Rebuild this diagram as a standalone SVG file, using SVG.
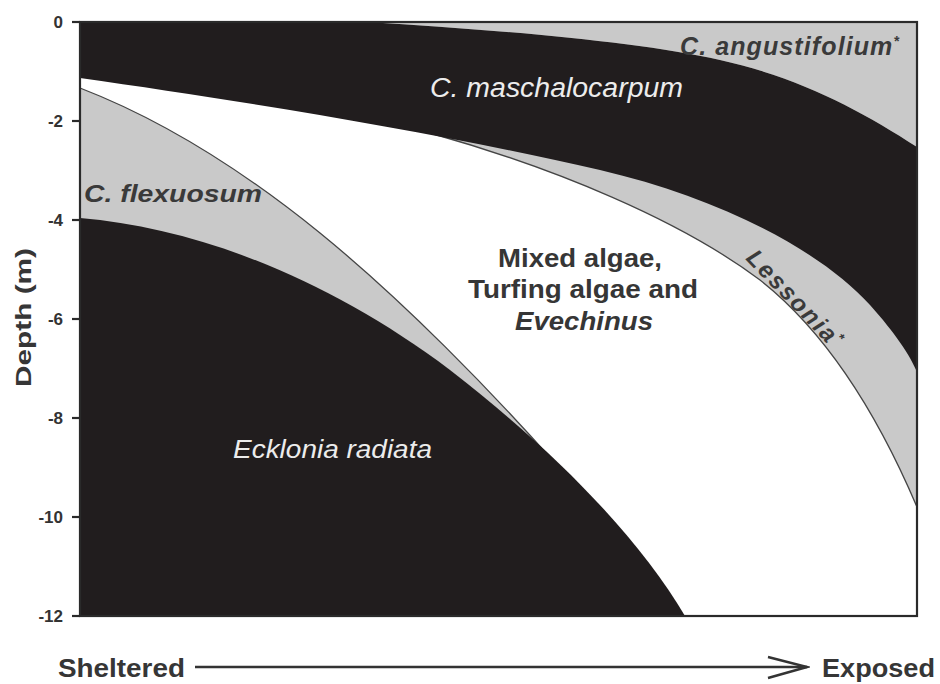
<svg xmlns="http://www.w3.org/2000/svg" width="940" height="684" viewBox="0 0 940 684">
<defs>
<style>
.blk{fill:#211d1e;stroke:none}
.gry{fill:#c9c9c9;stroke:none}
.edge{fill:none;stroke:#454545;stroke-width:1.3}
.lbl{font-family:"Liberation Sans",Arial,sans-serif;fill:#363636}
.tick{font-family:"Liberation Sans",Arial,sans-serif;font-size:17px;font-weight:bold;fill:#333;text-anchor:end}
.wht{font-family:"Liberation Sans",Arial,sans-serif;font-style:italic;fill:#ececec}
.dk{font-family:"Liberation Sans",Arial,sans-serif;font-style:italic;font-weight:bold;fill:#3a3a3a}
.axis{stroke:#2a2a2a;stroke-width:2.2}
</style>
<marker id="arrowhead" markerUnits="userSpaceOnUse" markerWidth="44" markerHeight="26" refX="41" refY="12" orient="auto">
<path d="M2,2 L41,12 L2,23" fill="none" stroke="#333" stroke-width="2.5"/>
</marker>
</defs>
<rect width="940" height="684" fill="#ffffff"/>

<g id="plot-background">
<rect x="80" y="22" width="837" height="594" fill="#ffffff"/>
</g>

<g id="angustifolium">
<path class="gry" d="M367,22 C500,30 640,42 720,60 S860,110 917,147 L917,22 Z"/>
</g>

<g id="lessonia">
<path class="gry" d="M430,133 C555,168 680,220 760,280 C830,335 880,420 917,507 L917,200 L440,60 Z"/>
<path class="edge" d="M430,133 C555,168 680,220 760,280 C830,335 880,420 917,507"/>
</g>

<g id="maschalocarpum">
<path class="blk" d="M80,22 L367,22 C500,30 640,42 720,60 S860,110 917,147 L917,372 C910,355 895,333 870,305 C820,250 720,198 600,170 C450,135 250,102 80,78 Z"/>
</g>

<g id="flexuosum">
<path class="gry" d="M80,88 C150,115 230,160 320,233 C390,290 490,385 600,515 L600,616 L80,616 Z"/>
<path class="edge" d="M80,88 C150,115 230,160 320,233 C390,290 490,385 600,515"/>
</g>

<g id="ecklonia">
<path class="blk" d="M80,218 C200,228 330,280 450,370 C560,455 640,540 685,616 L80,616 Z"/>
</g>

<g id="frame">
<rect x="80" y="22" width="837" height="594" fill="none" class="axis"/>
<g class="axis">
<line x1="72" y1="22" x2="80" y2="22"/>
<line x1="72" y1="121" x2="80" y2="121"/>
<line x1="72" y1="220" x2="80" y2="220"/>
<line x1="72" y1="319" x2="80" y2="319"/>
<line x1="72" y1="418" x2="80" y2="418"/>
<line x1="72" y1="517" x2="80" y2="517"/>
<line x1="72" y1="616" x2="80" y2="616"/>
</g>
</g>

<g id="tick-labels">
<text class="tick" x="63" y="28">0</text>
<text class="tick" x="63" y="127">-2</text>
<text class="tick" x="63" y="226">-4</text>
<text class="tick" x="63" y="325">-6</text>
<text class="tick" x="63" y="424">-8</text>
<text class="tick" x="63" y="523">-10</text>
<text class="tick" x="63" y="622">-12</text>
</g>

<g id="axis-title">
<text class="lbl" transform="translate(31,387) rotate(-90)" x="0" y="0" font-size="22" font-weight="bold" textLength="139" lengthAdjust="spacingAndGlyphs">Depth (m)</text>
</g>

<g id="zone-labels">
<text class="wht" x="430" y="97" font-size="27" textLength="253" lengthAdjust="spacingAndGlyphs">C. maschalocarpum</text>
<text class="dk" x="680" y="55" font-size="25" letter-spacing="1.1">C. angustifolium<tspan font-size="14" dy="-9">*</tspan></text>
<text class="dk" x="84" y="202" font-size="24" textLength="178" lengthAdjust="spacingAndGlyphs">C. flexuosum</text>
<text class="dk" transform="translate(745,259) rotate(46)" x="0" y="0" font-size="24" letter-spacing="2">Lessonia<tspan font-size="14" dy="-9">*</tspan></text>
<text class="lbl" x="498" y="267" font-size="26" font-weight="bold" textLength="164" lengthAdjust="spacingAndGlyphs">Mixed algae,</text>
<text class="lbl" x="468" y="298" font-size="26" font-weight="bold" textLength="230" lengthAdjust="spacingAndGlyphs">Turfing algae and</text>
<text class="lbl" x="515" y="330" font-size="26" font-weight="bold" font-style="italic" textLength="138" lengthAdjust="spacingAndGlyphs">Evechinus</text>
<text class="wht" x="233" y="458" font-size="26" textLength="199" lengthAdjust="spacingAndGlyphs">Ecklonia radiata</text>
</g>

<g id="connectors">
<line x1="195" y1="667" x2="807" y2="667" stroke="#333" stroke-width="2.5" marker-end="url(#arrowhead)"/>
</g>

<g id="exposure-labels">
<text class="lbl" x="58" y="677" font-size="26" font-weight="bold" textLength="127" lengthAdjust="spacingAndGlyphs">Sheltered</text>
<text class="lbl" x="822" y="677" font-size="26" font-weight="bold" textLength="113" lengthAdjust="spacingAndGlyphs">Exposed</text>
</g>
</svg>
